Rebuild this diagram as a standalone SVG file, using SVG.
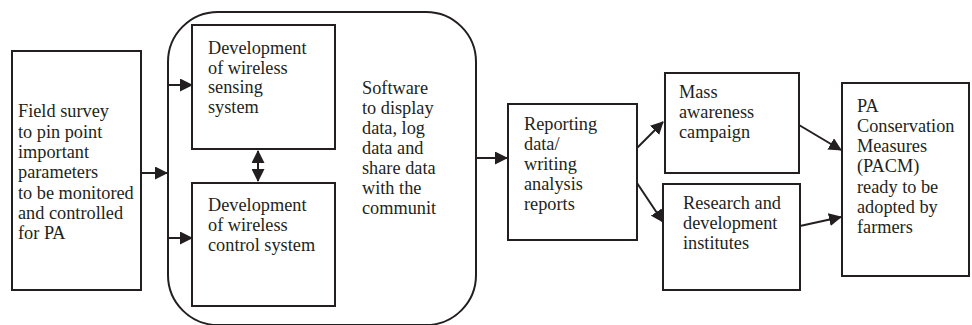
<svg xmlns="http://www.w3.org/2000/svg" width="972" height="325" viewBox="0 0 972 325">
<defs>
<style>
.box{fill:#fff;stroke:#231f20;stroke-width:2}
text{font-family:'Liberation Serif','Times New Roman',serif;font-size:18.3px;fill:#231f20}
.c{stroke:#231f20;stroke-width:2;fill:none}
</style>
<marker id="ah" markerUnits="userSpaceOnUse" markerWidth="13" markerHeight="13" refX="12" refY="6.5" orient="auto">
<path d="M0,0 L13,6.5 L0,13 z" fill="#231f20"/>
</marker>
<marker id="ahs" markerUnits="userSpaceOnUse" markerWidth="13" markerHeight="13" refX="1" refY="6.5" orient="auto">
<path d="M13,0 L0,6.5 L13,13 z" fill="#231f20"/>
</marker>
</defs>
<rect width="972" height="325" fill="#fff"/>

<g id="field-survey">
<rect class="box" x="12" y="51" width="129" height="239"/>
<text x="18" y="117">Field survey</text>
<text x="18" y="137.5">to pin point</text>
<text x="18" y="158">important</text>
<text x="18" y="178">parameters</text>
<text x="18" y="198.5">to be monitored</text>
<text x="18" y="219">and controlled</text>
<text x="18" y="239">for PA</text>
</g>

<g id="software">
<rect class="box" x="168" y="12" width="308" height="313" rx="50" ry="50"/>
<text x="362" y="94">Software</text>
<text x="362" y="114">to display</text>
<text x="362" y="134">data, log</text>
<text x="362" y="154">data and</text>
<text x="362" y="174">share data</text>
<text x="362" y="194">with the</text>
<text x="362" y="214">communit</text>
</g>

<g id="sensing">
<rect class="box" x="192" y="25" width="143" height="124"/>
<text x="208" y="54">Development</text>
<text x="208" y="73.5">of wireless</text>
<text x="208" y="93">sensing</text>
<text x="208" y="112.5">system</text>
</g>

<g id="control">
<rect class="box" x="192" y="183" width="143" height="123"/>
<text x="208" y="211">Development</text>
<text x="208" y="231">of wireless</text>
<text x="208" y="251">control system</text>
</g>

<g id="reporting">
<rect class="box" x="508" y="104" width="129" height="136"/>
<text x="524" y="130">Reporting</text>
<text x="524" y="150">data/</text>
<text x="524" y="170">writing</text>
<text x="524" y="190">analysis</text>
<text x="524" y="210">reports</text>
</g>

<g id="mass">
<rect class="box" x="665" y="73" width="134" height="100"/>
<text x="679" y="98">Mass</text>
<text x="679" y="118">awareness</text>
<text x="679" y="138">campaign</text>
</g>

<g id="research">
<rect class="box" x="663" y="184" width="137" height="106"/>
<text x="683" y="209">Research and</text>
<text x="683" y="229">development</text>
<text x="683" y="249">institutes</text>
</g>

<g id="pacm">
<rect class="box" x="842" y="83" width="127" height="193"/>
<text x="857" y="112">PA</text>
<text x="857" y="132">Conservation</text>
<text x="857" y="152">Measures</text>
<text x="857" y="172">(PACM)</text>
<text x="857" y="193">ready to be</text>
<text x="857" y="213">adopted by</text>
<text x="857" y="233">farmers</text>
</g>

<g id="connectors">
<line class="c" x1="141" y1="173" x2="167" y2="173" marker-end="url(#ah)"/>
<line class="c" x1="168" y1="85" x2="192" y2="85" marker-end="url(#ah)"/>
<line class="c" x1="168" y1="238" x2="192" y2="238" marker-end="url(#ah)"/>
<line class="c" x1="258" y1="151" x2="258" y2="181" marker-start="url(#ahs)" marker-end="url(#ah)"/>
<line class="c" x1="476" y1="158" x2="507" y2="158" marker-end="url(#ah)"/>
<line class="c" x1="637" y1="148" x2="663" y2="122" marker-end="url(#ah)"/>
<line class="c" x1="637" y1="183" x2="663" y2="222" marker-end="url(#ah)"/>
<line class="c" x1="799" y1="125" x2="841" y2="150" marker-end="url(#ah)"/>
<line class="c" x1="800" y1="226" x2="841" y2="217" marker-end="url(#ah)"/>
</g>
</svg>
